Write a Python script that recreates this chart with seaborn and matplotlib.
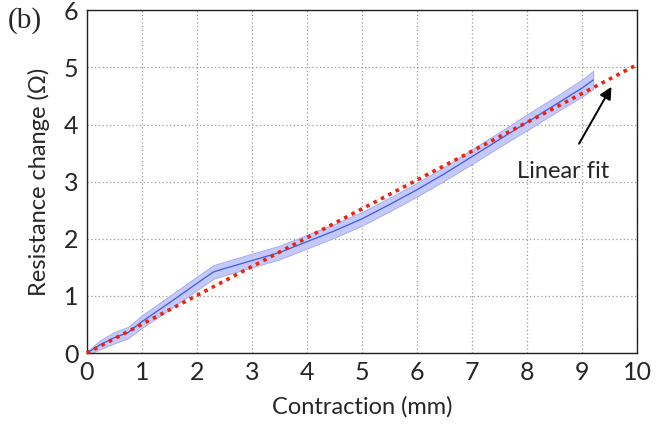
import matplotlib
matplotlib.use("Agg")
import matplotlib.pyplot as plt
import seaborn as sns
import pandas as pd

# Mean resistance change vs contraction, with spread band
contraction = [0.0, 0.25, 0.5, 0.75, 1.0, 1.5, 2.0, 2.3, 2.5, 3.0, 3.5, 4.0, 4.5,
               5.0, 5.5, 6.0, 6.5, 7.0, 7.5, 8.0, 8.5, 9.0, 9.2]
resistance = [0.0, 0.15, 0.27, 0.36, 0.55, 0.88, 1.22, 1.42, 1.48, 1.62, 1.76, 1.95, 2.14,
              2.35, 2.6, 2.86, 3.14, 3.44, 3.74, 4.04, 4.34, 4.64, 4.78]
spread = [0.03, 0.08, 0.1, 0.1, 0.11, 0.12, 0.12, 0.12, 0.12, 0.12, 0.12, 0.12, 0.12,
          0.12, 0.12, 0.12, 0.12, 0.13, 0.13, 0.14, 0.14, 0.15, 0.16]

# Linear fit end points
fit_x = [0.0, 10.0]
fit_y = [0.0, 5.05]

x_ticks = list(range(0, 11))
y_ticks = list(range(0, 7))

df = pd.DataFrame({"x": contraction, "y": resistance, "s": spread})
df["lo"] = df["y"] - df["s"]
df["hi"] = df["y"] + df["s"]

sns.set_style("white")
plt.rcParams["font.family"] = ["Lato", "DejaVu Sans"]

fig = plt.figure(figsize=(6.57, 4.26), dpi=100)
ax = fig.add_axes([0.132, 0.171, 0.838, 0.805])

ax.fill_between(df["x"], df["lo"], df["hi"], facecolor="#c4c9fa", edgecolor="#9ea7f2",
                lw=0.6, zorder=2)
sns.lineplot(data=df, x="x", y="y", ax=ax, color="#3a5ce8", lw=0.9, zorder=3)
ax.plot(fit_x, fit_y, color="#f0220c", lw=2.6, linestyle=(0, (1.0, 1.3)),
        zorder=4, clip_on=False)

ax.set_xlim(0, 10)
ax.set_ylim(0, 6)
ax.set_xticks(x_ticks)
ax.set_yticks(y_ticks)
ax.tick_params(direction="in", length=3, width=0.8, labelsize=18, pad=6, color="#333333")
ax.grid(True, color="#9a9a9a", linestyle=(0, (1, 2)), linewidth=0.9)
for sp in ax.spines.values():
    sp.set_visible(True)
    sp.set_color("#222222")
    sp.set_linewidth(1.0)

ax.set_xlabel("Contraction (mm)", fontsize=17, labelpad=8)
ax.set_ylabel("Resistance change (Ω)", fontsize=17, labelpad=10)

ax.annotate("Linear fit", xy=(9.53, 4.66), xytext=(8.65, 3.17),
            fontsize=17, ha="center", va="center",
            arrowprops=dict(arrowstyle="-|>", color="black", lw=1.4,
                            mutation_scale=18, shrinkA=12, shrinkB=0))

fig.text(0.012, 0.952, "(b)", fontsize=21, family=["Liberation Serif", "DejaVu Serif"],
         ha="left", va="center")

fig.savefig("out.png", dpi=100)
